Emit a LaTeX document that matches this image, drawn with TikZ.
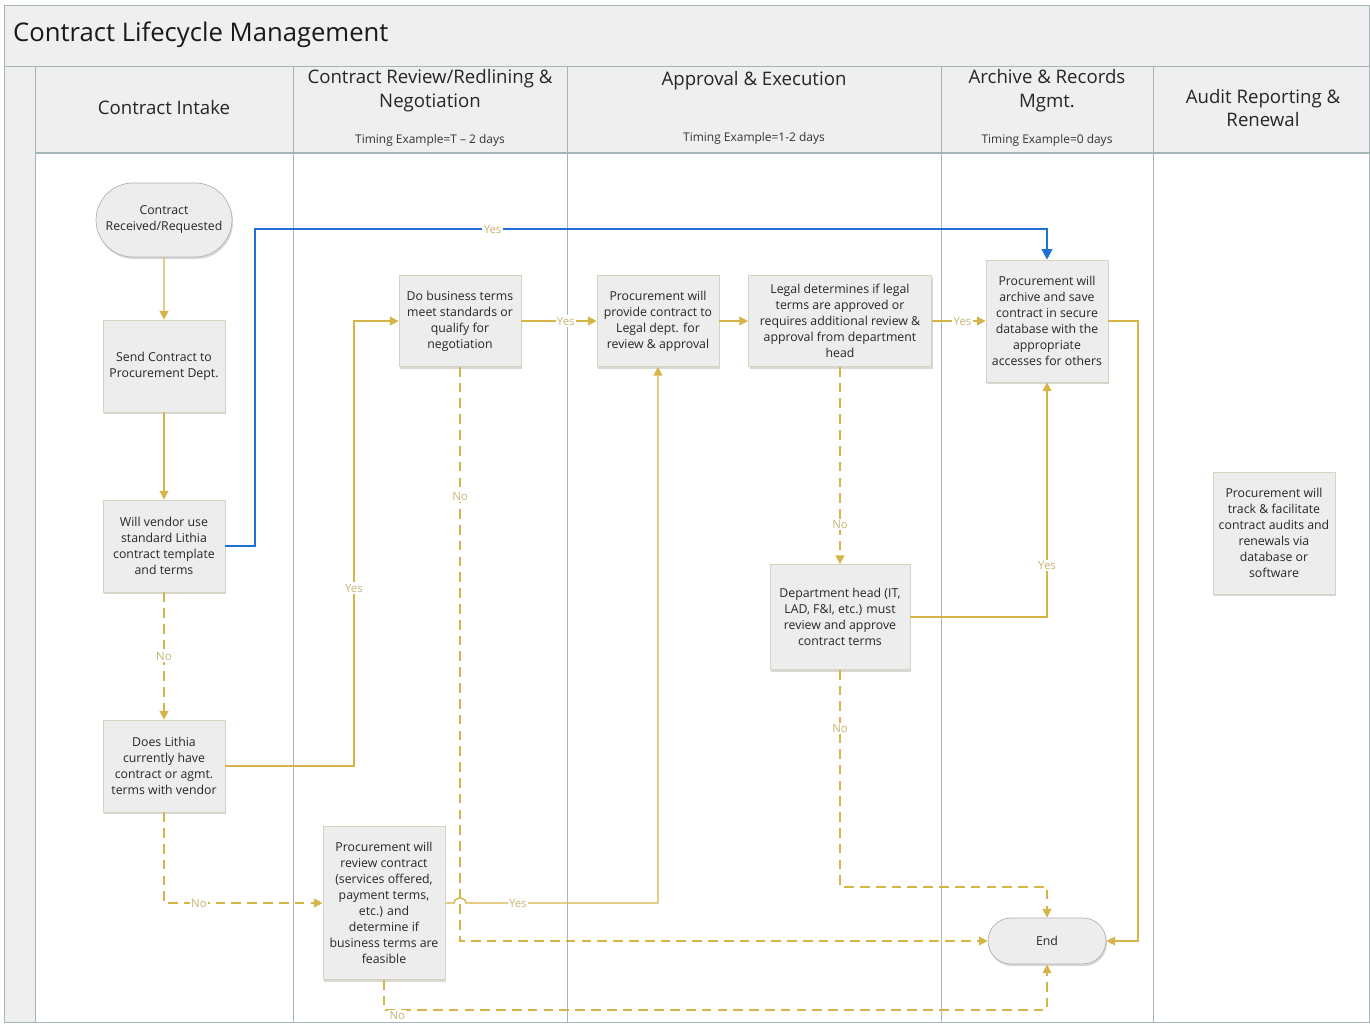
\documentclass[tikz,border=0pt]{standalone}
\usepackage{fontspec}
\setmainfont{Open Sans}
\usetikzlibrary{arrows.meta,shapes.misc,shadows}
\definecolor{gold}{HTML}{D6B548}
\definecolor{goldtext}{HTML}{C8B474}
\definecolor{flowblue}{HTML}{1F6FD8}
\definecolor{lanegray}{HTML}{EFEFEF}
\definecolor{laneline}{HTML}{A6B5B8}
\definecolor{boxfill}{HTML}{EDEDED}
\definecolor{boxline}{HTML}{D8D3BE}
\begin{document}
\begin{tikzpicture}[x=0.02cm,y=-0.02cm]
\tikzstyle{every node}=[font=\fontsize{7}{9.1}\selectfont, text=black!85]
\tikzstyle{stepbox}=[draw=boxline, fill=boxfill, align=center, minimum width=2.44cm, inner sep=2pt,
  drop shadow={opacity=0.3, shadow xshift=0.6pt, shadow yshift=-1.2pt}]
\tikzstyle{terminal}=[stepbox, rounded rectangle, draw=black!30]
\tikzstyle{flow}=[draw=gold, line width=0.8pt, -{Triangle[length=5pt,width=5pt]}]
\tikzstyle{noflow}=[flow, dash pattern=on 5.5pt off 3.5pt]
\tikzstyle{yesflow}=[draw=flowblue, line width=1.3pt, -{Triangle[length=6pt,width=6pt]}]
\tikzstyle{lbl}=[fill=white, inner sep=0.8pt, text=goldtext, font=\fontsize{6.5}{7}\selectfont]
\tikzstyle{lanehead}=[align=center, font=\fontsize{10.6}{13.6}\selectfont, text=black!85]
\tikzstyle{timing}=[font=\fontsize{6.8}{8}\selectfont, text=black!80]
	\useasboundingbox (0,0) rectangle (1370,1024);
	\fill[white] (0,0) rectangle (1370,1024);

	% swimlane frame
	\filldraw[draw=laneline, fill=lanegray] (4,5) rectangle (1369,66);
	\filldraw[draw=laneline, fill=lanegray] (4,66) rectangle (35,1022);
	\filldraw[draw=laneline, fill=lanegray] (35,66) rectangle (1369,153);
	\draw[draw=laneline, line width=1.2pt] (35,153) -- (1369,153);
	\foreach \x in {293,567,941,1153}
		\draw[draw=laneline] (\x,66) -- (\x,1022);
	\draw[draw=laneline] (4,5) rectangle (1369,1022);
	\node[anchor=west, font=\fontsize{14.6}{16}\selectfont, text=black!90] (title) at (7,35) {Contract Lifecycle Management};

	\node[lanehead] (intake) at (164,108) {Contract Intake};
	\node[lanehead] (redline) at (430,91) {Contract Review/Redlining \&\\Negotiation};
	\node[timing] (tredline) at (430,140) {Timing Example=T -- 2 days};
	\node[lanehead] (approval) at (754,81) {Approval \& Execution};
	\node[timing] (tapproval) at (754,138) {Timing Example=1-2 days};
	\node[lanehead] (records) at (1047,91) {Archive \& Records\\Mgmt.};
	\node[timing] (trecords) at (1047,140) {Timing Example=0 days};
	\node[lanehead] (renewal) at (1263,108) {Audit Reporting \&\\Renewal};

	% steps
	\node[terminal, minimum width=2.86cm, minimum height=1.48cm] (start) at (164,220) {Contract\\Received/Requested};
	\node[stepbox, minimum height=1.84cm] (send) at (164,366) {Send Contract to\\Procurement Dept.};
	\node[stepbox, minimum height=1.84cm] (vendor) at (164,546) {Will vendor use\\standard Lithia\\contract template\\and terms};
	\node[stepbox, minimum height=1.84cm] (lithia) at (164,766) {Does Lithia\\currently have\\contract or agmt.\\terms with vendor};
	\node[stepbox, minimum height=3.06cm] (review) at (384,903) {Procurement will\\review contract\\(services offered,\\payment terms,\\etc.) and\\determine if\\business terms are\\feasible};
	\node[stepbox, minimum height=1.82cm] (business) at (460,321) {Do business terms\\meet standards or\\qualify for\\negotiation};
	\node[stepbox, minimum height=1.82cm] (legalprov) at (658,321) {Procurement will\\provide contract to\\Legal dept. for\\review \& approval};
	\node[stepbox, minimum width=3.66cm, minimum height=1.82cm] (legaldet) at (840,321) {Legal determines if legal\\terms are approved or\\requires additional review \&\\approval from department\\head};
	\node[stepbox, minimum height=2.44cm] (archive) at (1047,321) {Procurement will\\archive and save\\contract in secure\\database with the\\appropriate\\accesses for others};
	\node[stepbox, minimum width=2.8cm, minimum height=2.1cm] (dept) at (840,617) {Department head (IT,\\LAD, F\&I, etc.) must\\review and approve\\contract terms};
	\node[stepbox, minimum height=2.44cm] (audit) at (1274,533) {Procurement will\\track \& facilitate\\contract audits and\\renewals via\\database or\\software};
	\node[terminal, minimum width=2.5cm, minimum height=0.92cm] (end) at (1047,941) {End};

	% connectors
	\draw[flow] (start) -- (send);
	\draw[flow] (send) -- (vendor);
	\draw[yesflow] (vendor.east) -- (255,546) |- node[lbl, pos=0.65]{Yes} (1047,229) -- (archive.north);
	\draw[noflow] (vendor) -- node[lbl]{No} (lithia);
	\draw[flow] (lithia.east) -- (354,766) |- node[lbl, pos=0.2]{Yes} (business.west);
	\draw[noflow] (lithia.south) |- node[lbl, pos=0.61]{No} (review.west);
	\draw[flow] (business) -- node[lbl, pos=0.59]{Yes} (legalprov);
	\draw[noflow] (business.south) |- node[lbl, pos=0.113]{No} (end.west);
	\draw[flow] (review.east) -- (454,903) .. controls (455,896) and (465,896) .. (466,903)
		-- node[lbl, pos=0.27]{Yes} (658,903) -- (legalprov.south);
	\draw[noflow] (review.south) -- (384,1010) -| node[lbl, pos=0.01, yshift=-3]{No} (end.south);
	\draw[flow] (legalprov) -- (legaldet);
	\draw[flow] (legaldet) -- node[lbl, pos=0.57]{Yes} (archive);
	\draw[noflow] (legaldet.south) -- node[lbl, pos=0.8]{No} (dept.north);
	\draw[flow] (dept.east) -| node[lbl, pos=0.61]{Yes} (archive.south);
	\draw[noflow] (dept.south) -- node[lbl, pos=0.27]{No} (840,887) -| (end.north);
	\draw[flow] (archive.east) -- (1138,321) |- (end.east);
\end{tikzpicture}
\end{document}
